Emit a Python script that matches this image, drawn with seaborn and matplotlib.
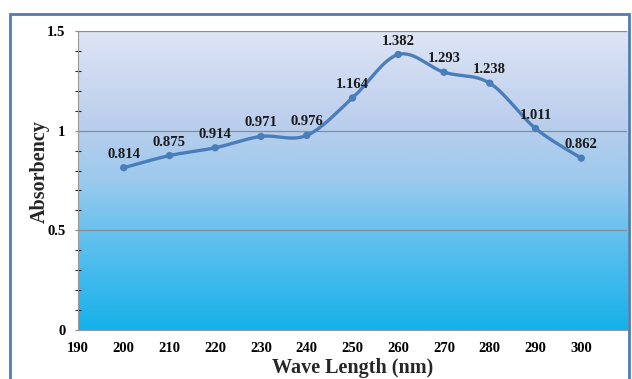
import numpy as np
import pandas as pd
import seaborn as sns
import matplotlib.pyplot as plt
from matplotlib.colors import LinearSegmentedColormap
from matplotlib.patches import Rectangle

wavelength = [200, 210, 220, 230, 240, 250, 260, 270, 280, 290, 300]
absorbency = [0.814, 0.875, 0.914, 0.971, 0.976, 1.164, 1.382, 1.293, 1.238, 1.011, 0.862]
x_ticks = list(range(190, 301, 10))
y_ticks = [0, 0.5, 1, 1.5]

sns.set_style("white")
plt.rcParams['font.family'] = ['Liberation Serif', 'DejaVu Serif']

df = pd.DataFrame({"Wave Length": wavelength, "Absorbency": absorbency})


# excel-like smooth line (catmull-rom through the points)
def smooth(xs, ys, n=30):
    p = np.column_stack([xs, ys]).astype(float)
    p = np.vstack([p[0], p, p[-1]])
    out = []
    for i in range(1, len(p) - 2):
        p0, p1, p2, p3 = p[i - 1], p[i], p[i + 1], p[i + 2]
        t = np.linspace(0, 1, n, endpoint=False)[:, None]
        c = 0.5 * ((2 * p1) + (-p0 + p2) * t + (2 * p0 - 5 * p1 + 4 * p2 - p3) * t ** 2
                   + (-p0 + 3 * p1 - 3 * p2 + p3) * t ** 3)
        out.append(c)
    out.append(p[-2][None, :])
    out = np.vstack(out)
    return pd.DataFrame({"x": out[:, 0], "y": out[:, 1]})


curve = smooth(wavelength, absorbency)

fig = plt.figure(figsize=(6.32, 3.79), dpi=100)
ax = fig.add_axes([0.1234, 0.1293, 0.8687, 0.789])

# gradient background
cmap = LinearSegmentedColormap.from_list("bg", [
    (0.0, "#16b1ea"), (0.3, "#5fc0ee"), (0.5, "#9ccaed"),
    (0.7, "#bccfed"), (1.0, "#dfe5f5")])
grad = np.linspace(0, 1, 256)[:, None]
ax.imshow(grad, aspect="auto", cmap=cmap, origin="lower",
          extent=[190, 310, 0, 1.5], zorder=0)

for yv in [0.5, 1, 1.5]:
    ax.axhline(yv, color="#8c8c8c", lw=0.9, zorder=1)

sns.lineplot(data=curve, x="x", y="y", ax=ax, color="#4a7ebb", lw=2.4,
             sort=False, estimator=None, zorder=3)
sns.scatterplot(data=df, x="Wave Length", y="Absorbency", ax=ax,
                color="#4a7ebb", s=28, edgecolor="none", zorder=4)

for xv, yv in zip(wavelength, absorbency):
    ax.annotate(f"{yv:g}", (xv, yv), xytext=(0, 5), textcoords="offset points",
                ha="center", va="bottom", fontsize=10.5, fontweight="bold",
                color="#1a1a1a", zorder=5)

ax.set_xlim(190, 310)
ax.set_ylim(0, 1.5)
ax.set_xticks(x_ticks + [310])
ax.set_xticklabels([str(v) for v in x_ticks] + [""])
ax.set_yticks(y_ticks)
ax.set_yticklabels(["0", "0.5", "1", "1.5"])
ax.set_yticks(np.arange(0, 1.51, 0.1), minor=True)
ax.tick_params(axis="both", labelsize=10.5, colors="#888888", labelcolor="black")
ax.tick_params(axis="x", length=4, width=0.8, direction="out", pad=5)
ax.tick_params(axis="y", which="both", length=4, width=0.8, direction="inout", left=True, pad=7)
for lab in ax.get_xticklabels() + ax.get_yticklabels():
    lab.set_fontweight("bold")

ax.set_xlabel("Wave Length (nm)", fontsize=14.5, fontweight="bold")
ax.set_ylabel("Absorbency", fontsize=14.5, fontweight="bold")
ax.xaxis.label.set_va("center")
ax.yaxis.label.set_va("center")
ax.xaxis.set_label_coords(0.5, -0.128)
ax.yaxis.set_label_coords(-0.07, 0.53)

for s in ["top", "right"]:
    ax.spines[s].set_visible(False)
for s in ["left", "bottom"]:
    ax.spines[s].set_color("#999999")
    ax.spines[s].set_linewidth(0.8)

# outer chart border
fig.patches.append(Rectangle((0.016, -0.02), 0.98, 0.984, transform=fig.transFigure,
                             fill=False, edgecolor="#4f7cb8", lw=2))

fig.savefig("out.png", dpi=100)
